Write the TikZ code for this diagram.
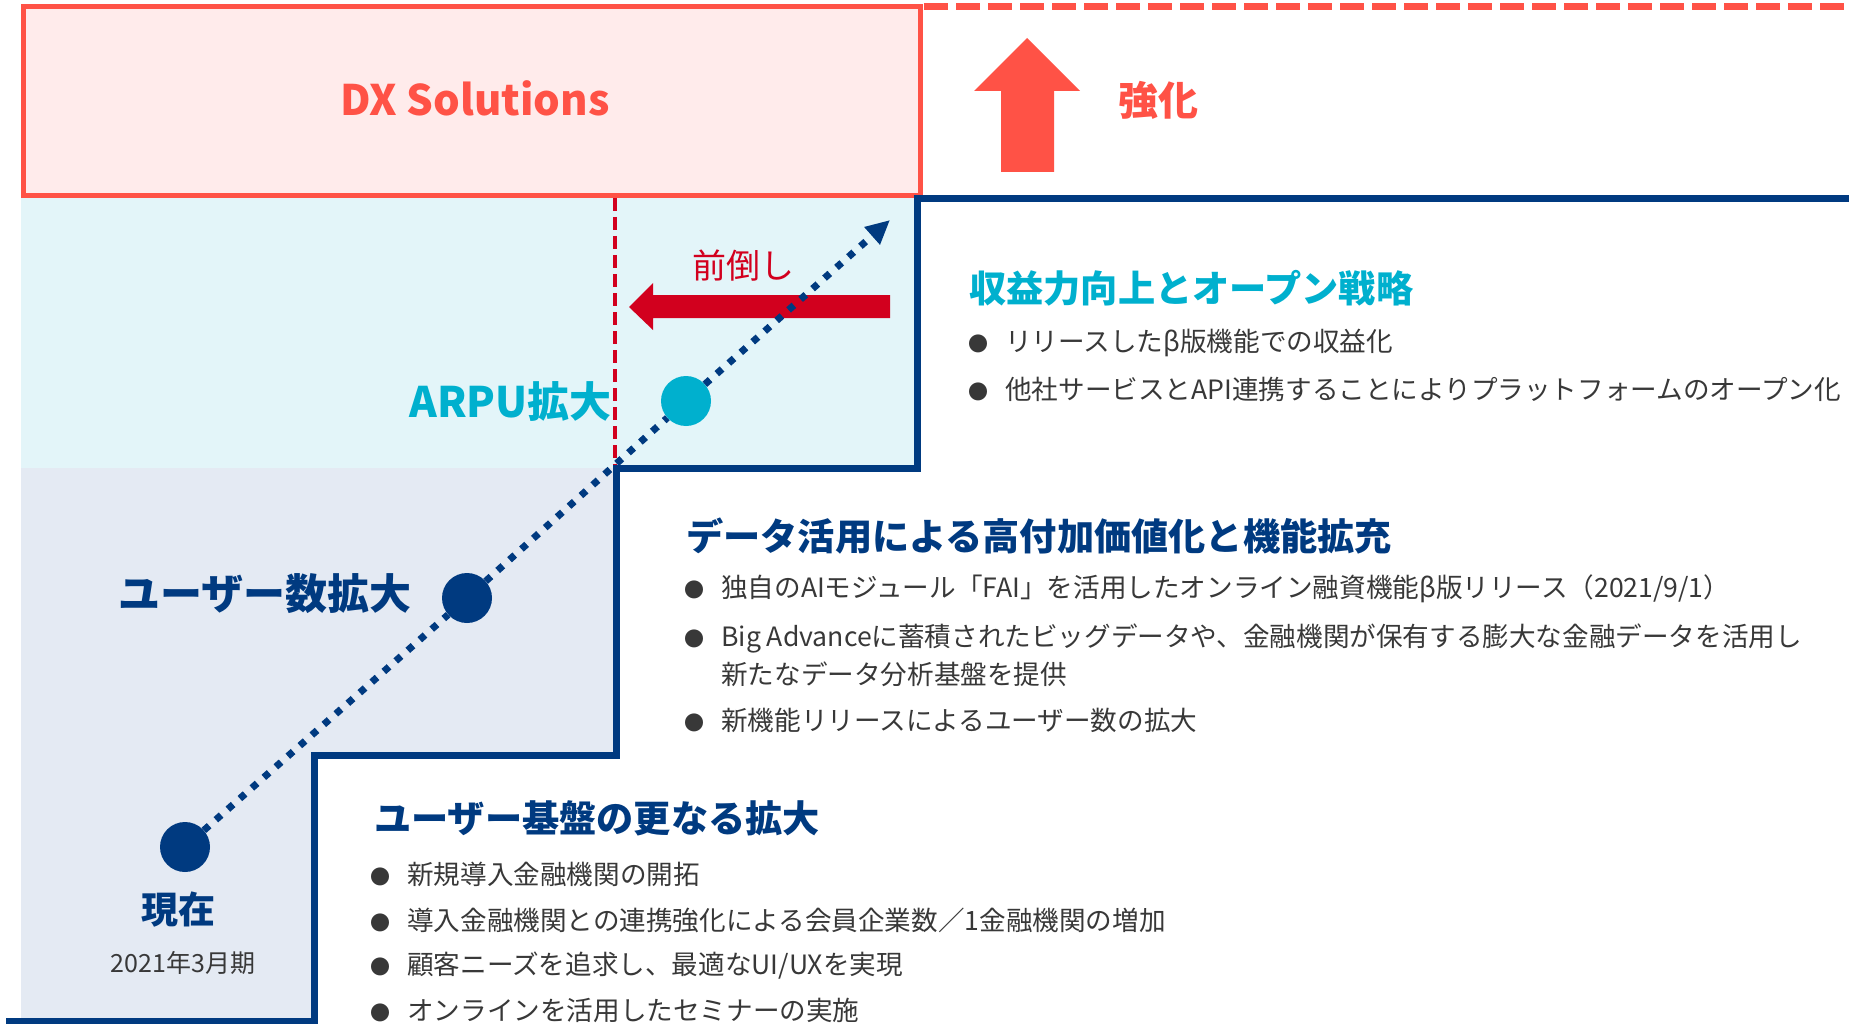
\documentclass[tikz,border=0pt]{standalone}
\usepackage{fontspec}
\setmainfont{Noto Sans CJK JP}
\usetikzlibrary{arrows.meta}
\definecolor{dxred}{HTML}{FF5246}
\definecolor{dxpink}{HTML}{FFEBEB}
\definecolor{frontred}{HTML}{D2001E}
\definecolor{navy}{HTML}{003A80}
\definecolor{aqua}{HTML}{00B0CE}
\definecolor{aquabg}{HTML}{E3F5F9}
\definecolor{navybg}{HTML}{E4EAF3}
\definecolor{bodygrey}{HTML}{383838}
\newcommand{\bullitem}[1]{\makebox[37pt][l]{\fontsize{20}{20}\selectfont ●}#1}

\begin{document}
\begin{tikzpicture}[x=1pt, y=-1pt, line join=miter,
  heading/.style={anchor=west, inner sep=0, font=\fontsize{37.2}{44}\selectfont\bfseries},
  itemtext/.style={anchor=west, inner sep=0, align=left, text=bodygrey, font=\fontsize{26.6}{38}\selectfont},
  bigdot/.style={circle, minimum size=50pt, inner sep=0},
  biglabel/.style={inner sep=0, font=\fontsize{42}{48}\selectfont\bfseries},
  stepline/.style={navy, line width=7pt},
  growth/.style={navy, line width=7pt, dash pattern=on 7pt off 9pt}]
\useasboundingbox (0,0) rectangle (1849,1024);

\fill[aquabg] (21,198) rectangle (917,468);
\fill[navybg] (21,468) -- (615,468) -- (615,755) -- (315,755) -- (315,1022) -- (21,1022) -- cycle;

\draw[dxred, line width=5pt, fill=dxpink] (23,7) rectangle (920,196);
\draw[dxred, line width=7pt, dash pattern=on 24pt off 8pt] (924,6.5) -- (1849,6.5);
\node[text=dxred, inner sep=0, font=\fontsize{42}{48}\selectfont\bfseries] (dx) at (475,98) {DX Solutions};

\fill[dxred] (1001,172) -- (1001,91) -- (974,91) -- (1027,38) -- (1080,91) -- (1054,91) -- (1054,172) -- cycle;
\node[text=dxred, anchor=west, inner sep=0, font=\fontsize{40}{46}\selectfont\bfseries] (kyoka) at (1118,100) {強化};

\draw[frontred, line width=4.5pt, dash pattern=on 13pt off 6pt] (615,198) -- (615,468);
\draw[stepline] (1849,198.5) -- (917.5,198.5) -- (917.5,468.5) -- (616,468.5) -- (616,755) -- (314,755) -- (314,1021) -- (6,1021);

\fill[frontred] (890,295) -- (653,295) -- (653,283) -- (629,307) -- (653,330) -- (653,318) -- (890,318) -- cycle;
\node[text=frontred, inner sep=0, font=\fontsize{34}{40}\selectfont] (mae) at (743,266) {前倒し};

\node[bigdot, fill=navy] (now) at (185,847) {};
\node[bigdot, fill=navy] (users) at (467,598) {};
\node[bigdot, fill=aqua] (arpu) at (686,401) {};
\coordinate (tip) at (890,220);
\draw[growth] (now) -- (users);
\draw[growth] (users) -- (arpu);
\draw[growth, -{Triangle[length=24pt, width=22pt]}] (arpu) -- (tip);

\node[biglabel, text=aqua, anchor=east] (arpulbl) at (612,401) {ARPU拡大};
\node[biglabel, text=navy, anchor=east] (userslbl) at (412,594) {ユーザー数拡大};
\node[inner sep=0, text=navy, font=\fontsize{37}{44}\selectfont\bfseries] (nowlbl) at (178,910) {現在};
\node[inner sep=0, text=bodygrey, font=\fontsize{25}{30}\selectfont] (term) at (183,963) {2021年3月期};

\node[heading, text=aqua] (open) at (969,288) {収益力向上とオープン戦略};
\node[itemtext] (open1) at (968,343) {\bullitem{リリースしたβ版機能での収益化}};
\node[itemtext] (open2) at (968,389) {\bullitem{他社サービスとAPI連携することによりプラットフォームのオープン化}};

\node[heading, text=navy] (data) at (686,536) {データ活用による高付加価値化と機能拡充};
\node[itemtext] (data1) at (684,589) {\bullitem{独自のAIモジュール「FAI」を活用したオンライン融資機能β版リリース（2021/9/1）}};
\node[itemtext] (data2) at (684,655) {\bullitem{Big Advanceに蓄積されたビッグデータや、金融機関が保有する膨大な金融データを活用し}\\\makebox[37pt]{}新たなデータ分析基盤を提供};
\node[itemtext] (data3) at (684,720) {\bullitem{新機能リリースによるユーザー数の拡大}};

\node[heading, text=navy] (base) at (374,818) {ユーザー基盤の更なる拡大};
\node[itemtext] (base1) at (370,874) {\bullitem{新規導入金融機関の開拓}};
\node[itemtext] (base2) at (370,920) {\bullitem{導入金融機関との連携強化による会員企業数／1金融機関の増加}};
\node[itemtext] (base3) at (370,966) {\bullitem{顧客ニーズを追求し、最適なUI/UXを実現}};
\node[itemtext] (base4) at (370,1010) {\bullitem{オンラインを活用したセミナーの実施}};
\end{tikzpicture}
\end{document}
